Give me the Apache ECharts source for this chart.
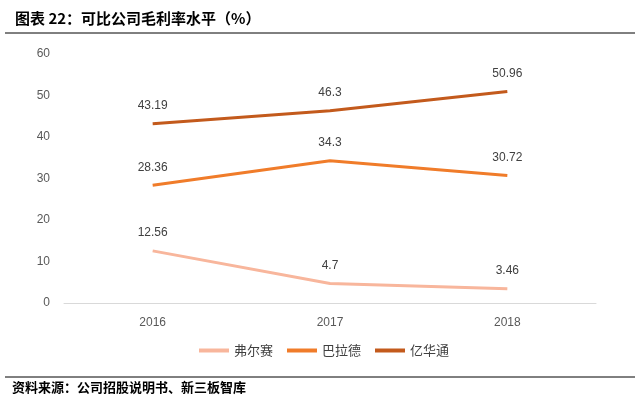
<!DOCTYPE html>
<html><head><meta charset="utf-8">
<script src="https://cdn.jsdelivr.net/npm/echarts@6/dist/echarts.min.js"></script>
<style>html,body{margin:0;padding:0;background:#fff;}#c{width:640px;height:404px;}</style>
</head><body><div id="c"></div>
<script>
var categories = ['2016', '2017', '2018'];
var seriesNames = ['弗尔赛', '巴拉德', '亿华通'];
var valuesFES = [12.56, 4.7, 3.46];
var valuesBLD = [28.36, 34.3, 30.72];
var valuesYHT = [43.19, 46.3, 50.96];
var colors = ['#F8B69C', '#F07C2A', '#C35A1C'];
var titleText = '图表 22：可比公司毛利率水平（%）';
var sourceText = '资料来源：公司招股说明书、新三板智库';

var chart = echarts.init(document.getElementById('c'));
function mk(name, data, color) {
  return {
    name: name, type: 'line', data: data, symbol: 'circle', symbolSize: 0, smooth: false,
    lineStyle: { color: color, width: 3 }, itemStyle: { color: color },
    label: { show: true, position: 'top', distance: 12, color: '#404040', fontSize: 12, fontFamily: 'Liberation Sans' }
  };
}
chart.setOption({
  animation: false,
  graphic: [
    { type: 'text', left: 15, top: 11, style: { text: titleText, font: 'bold 15px "Noto Sans CJK SC"', fill: '#000' } },
    { type: 'line', shape: { x1: 5, y1: 33, x2: 635, y2: 33 }, style: { stroke: '#000', lineWidth: 1 } },
    { type: 'line', shape: { x1: 5, y1: 377, x2: 635, y2: 377 }, style: { stroke: '#000', lineWidth: 1 } },
    { type: 'text', left: 12, top: 381, style: { text: sourceText, font: 'bold 13px "Noto Sans CJK SC"', fill: '#000' } }
  ],
  grid: { left: 64, right: 44, top: 54, bottom: 101 },
  legend: {
    bottom: 42, left: 194, itemWidth: 30, itemHeight: 4, itemGap: 14,
    icon: 'rect',
    textStyle: { color: '#404040', fontSize: 13, fontFamily: 'Noto Sans CJK SC' },
    data: seriesNames
  },
  xAxis: {
    type: 'category', data: categories, boundaryGap: true,
    axisLine: { lineStyle: { color: '#D9D9D9' } }, axisTick: { show: false },
    axisLabel: { color: '#595959', fontSize: 12, margin: 14, fontFamily: 'Liberation Sans' }
  },
  yAxis: {
    type: 'value', min: 0, max: 60, interval: 10,
    axisLine: { show: false }, axisTick: { show: false }, splitLine: { show: false },
    axisLabel: { color: '#595959', fontSize: 12, margin: 14, fontFamily: 'Liberation Sans' }
  },
  series: [
    mk(seriesNames[0], valuesFES, colors[0]),
    mk(seriesNames[1], valuesBLD, colors[1]),
    mk(seriesNames[2], valuesYHT, colors[2])
  ]
});
</script></body></html>
